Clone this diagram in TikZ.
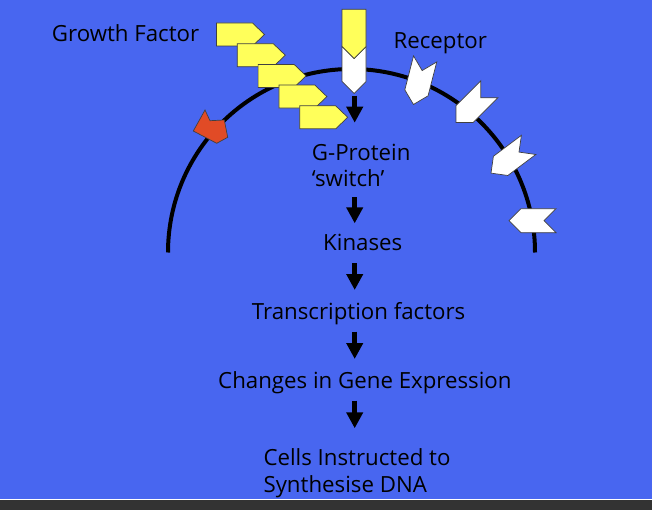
\documentclass[tikz,border=0pt]{standalone}
\usepackage{fontspec}
\setmainfont{Open Sans}
\usetikzlibrary{arrows.meta}
\definecolor{slideblue}{RGB}{72,102,240}
\definecolor{barcolor}{RGB}{51,51,51}
\definecolor{ligand}{RGB}{255,255,90}
\definecolor{redrec}{RGB}{225,75,38}

\begin{document}
\begin{tikzpicture}[x=0.03cm,y=-0.03cm,
    stagetext/.style={inner sep=0pt,anchor=base west,align=left,font=\fontsize{19}{22.7}\selectfont},
    signal/.style={-{Triangle[width=0.48cm,length=0.48cm]},line width=0.16cm},
    outline/.style={draw=black!75,line width=0.6pt},
    factor/.style={outline,fill=ligand},
    receptor/.style={outline,fill=white}]

    \useasboundingbox (0,0) rectangle (652,510);
    \fill[slideblue] (0,0) rectangle (652,498.5);
    \fill[white] (0,498.5) rectangle (652,500);
    \fill[barcolor] (0,500) rectangle (652,510);

    \draw[line width=0.12cm] (168,252.5) arc[start angle=180,end angle=360,radius=183.5];

    \foreach \i in {0,...,4}
      \draw[factor,shift={(216.5+20.8*\i,23+20.7*\i)}] (0,0) -- (36,0) -- (48,11.5) -- (36,23) -- (0,23) -- cycle;

    \foreach \cx/\cy/\rot in {354/70/0, 419.3/81.7/-14.4, 472.7/105.9/-45, 509.8/159/-53.1, 532.5/220.7/-90}
      \draw[receptor,shift={(\cx,\cy)},rotate=\rot] (-12,-23.5) -- (0,-11.5) -- (12,-23.5) -- (12,11.5) -- (0,23.5) -- (-12,11.5) -- cycle;
    \draw[factor] (342,9.3) -- (366,9.3) -- (366,46.5) -- (354,58.5) -- (342,46.5) -- cycle;

    \draw[outline,fill=redrec] (193.3,131) -- (205,110) -- (210,120.7) -- (224.3,120) -- (227.7,137.3) -- (216.7,143.3) -- cycle;

    \node[stagetext] (gf) at (51.7,41.7) {Growth Factor};
    \node[stagetext] (rec) at (393.3,48.3) {Receptor};
    \node[stagetext] (gprot) at (311.7,186.7) {G-Protein\\‘switch’};
    \node[stagetext] (kin) at (323,250) {Kinases};
    \node[stagetext] (tf) at (251.7,319) {Transcription factors};
    \node[stagetext] (gene) at (218,388) {Changes in Gene Expression};
    \node[stagetext] (dna) at (263.3,492.3) {Cells Instructed to\\Synthesise DNA};

    \coordinate (rtip) at (354.7,93.3);
    \draw[signal,shorten <=0.07cm,shorten >=1.92cm] (rtip) -- (gprot.base -| rtip);
    \draw[signal,shorten <=0.31cm,shorten >=0.8cm] (gprot.base -| rtip) -- (kin.base -| rtip);
    \draw[signal,shorten <=0.39cm,shorten >=0.87cm] (kin.base -| rtip) -- (tf.base -| rtip);
    \draw[signal,shorten <=0.38cm,shorten >=0.87cm] (tf.base -| rtip) -- (gene.base -| rtip);
    \draw[signal,shorten <=0.38cm,shorten >=1.92cm] (gene.base -| rtip) -- (dna.base -| rtip);
\end{tikzpicture}
\end{document}
